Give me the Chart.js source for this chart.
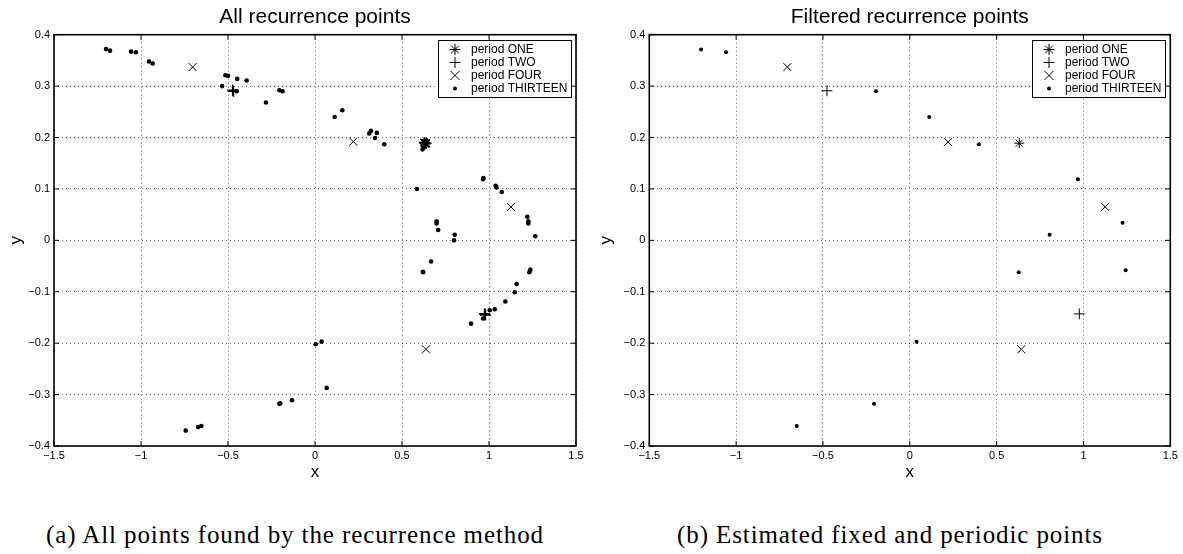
<!DOCTYPE html>
<html>
<head>
<meta charset="utf-8">
<script src="https://cdn.jsdelivr.net/npm/chart.js@4.4.1/dist/chart.umd.min.js"></script>
<style>
  html, body { margin: 0; padding: 0; background: #fff; }
  #page { position: relative; width: 1183px; height: 554px; overflow: hidden; }
  canvas { position: absolute; top: 0; }
  .caption {
    position: absolute; top: 521px; color: #000; white-space: nowrap;
    font-family: "Liberation Serif", "Times New Roman", serif; font-size: 25px; letter-spacing: 0.9px;
  }
</style>
</head>
<body>
<div id="page">
  <canvas id="allCanvas"></canvas>
  <canvas id="filteredCanvas"></canvas>
  <div class="caption" id="captionA" style="left:46px"></div>
  <div class="caption" id="captionB" style="left:677px"></div>
</div>
<script>
// values, [x, y]
const seriesNames = ['period ONE', 'period TWO', 'period FOUR', 'period THIRTEEN'];
const plotTitles = ['All recurrence points', 'Filtered recurrence points'];
const captions = ['(a) All points found by the recurrence method', '(b) Estimated fixed and periodic points'];
const xTickValues = [-1.5, -1, -0.5, 0, 0.5, 1, 1.5];
const yTickValues = [-0.4, -0.3, -0.2, -0.1, 0, 0.1, 0.2, 0.3, 0.4];

// (a) all points
const allPeriodOne = [[0.628, 0.190], [0.634, 0.188], [0.638, 0.189]];
const allPeriodTwo = [[-0.473, 0.292], [-0.469, 0.290], [0.975, -0.143], [0.979, -0.145]];
const allPeriodFour = [[-0.703, 0.337], [0.220, 0.192], [1.126, 0.065], [0.638, -0.212]];
const allPeriodThirteen = [
  [-1.201, 0.372], [-1.178, 0.369], [-1.057, 0.367], [-1.030, 0.366], [-0.954, 0.348], [-0.933, 0.344],
  [-0.515, 0.321], [-0.500, 0.320], [-0.534, 0.300], [-0.447, 0.314], [-0.393, 0.311], [-0.450, 0.290],
  [-0.282, 0.268], [-0.205, 0.292], [-0.186, 0.290], [0.113, 0.240], [0.157, 0.253],
  [0.312, 0.208], [0.322, 0.213], [0.355, 0.209], [0.345, 0.199], [0.398, 0.187],
  [0.618, 0.177], [0.586, 0.100], [0.966, 0.119], [0.968, 0.121], [1.038, 0.106], [1.043, 0.103],
  [1.073, 0.094], [1.220, 0.046], [1.226, 0.033], [1.226, 0.037], [1.266, 0.008],
  [0.699, 0.037], [0.699, 0.033], [0.708, 0.020], [0.803, 0.011], [0.799, 0.000],
  [0.622, -0.062], [0.620, -0.061], [0.667, -0.041], [1.232, -0.062], [1.238, -0.057],
  [1.159, -0.085], [1.148, -0.101], [1.094, -0.119], [1.033, -0.134], [1.004, -0.136],
  [0.966, -0.152], [0.897, -0.162], [0.004, -0.202], [0.038, -0.197], [0.067, -0.287],
  [-0.132, -0.311], [-0.205, -0.318], [-0.200, -0.317], [-0.743, -0.370], [-0.671, -0.363], [-0.653, -0.361]
];

// (b) filtered points
const filteredPeriodOne = [[0.630, 0.189]];
const filteredPeriodTwo = [[-0.477, 0.291], [0.976, -0.143]];
const filteredPeriodFour = [[-0.705, 0.337], [0.220, 0.191], [1.125, 0.065], [0.642, -0.212]];
const filteredPeriodThirteen = [
  [-1.202, 0.371], [-1.058, 0.366], [-0.195, 0.290], [0.112, 0.240], [0.398, 0.187], [0.968, 0.119],
  [1.225, 0.034], [0.805, 0.011], [0.627, -0.062], [1.243, -0.058], [0.039, -0.197],
  [-0.651, -0.361], [-0.206, -0.318]
];

const toXY = pts => pts.map(p => ({ x: p[0], y: p[1] }));
const fmtTick = v => (v < 0 ? '\u2212' + (-v) : String(v));
const FONT = '"Liberation Sans", Arial, Helvetica, sans-serif';

Chart.defaults.color = '#000';
Chart.defaults.font.family = FONT;

// marker drawing for the legend box, same shapes as chart.js point styles
function drawMarker(ctx, style, x, y, r) {
  ctx.beginPath();
  if (style === 'circle') {
    ctx.arc(x, y, r, 0, Math.PI * 2);
    ctx.fill();
    return;
  }
  if (style === 'cross' || style === 'star') {
    ctx.moveTo(x - r, y); ctx.lineTo(x + r, y);
    ctx.moveTo(x, y - r); ctx.lineTo(x, y + r);
  }
  if (style === 'crossRot' || style === 'star') {
    const d = r * Math.SQRT1_2;
    ctx.moveTo(x - d, y - d); ctx.lineTo(x + d, y + d);
    ctx.moveTo(x - d, y + d); ctx.lineTo(x + d, y - d);
  }
  ctx.stroke();
}

// matlab style box: frame on all sides + inward ticks
const framePlugin = {
  id: 'frame',
  afterDatasetsDraw(chart) {
    const { ctx, chartArea: a, scales: { x, y } } = chart;
    ctx.save();
    ctx.strokeStyle = '#000';
    ctx.lineWidth = 1;
    ctx.beginPath();
    x.ticks.forEach(t => {
      const px = x.getPixelForValue(t.value);
      ctx.moveTo(px, a.bottom); ctx.lineTo(px, a.bottom - 5);
      ctx.moveTo(px, a.top); ctx.lineTo(px, a.top + 5);
    });
    y.ticks.forEach(t => {
      const py = y.getPixelForValue(t.value);
      ctx.moveTo(a.left, py); ctx.lineTo(a.left + 5, py);
      ctx.moveTo(a.right, py); ctx.lineTo(a.right - 5, py);
    });
    ctx.stroke();
    ctx.lineWidth = 1.6;
    ctx.strokeRect(a.left, a.top, a.right - a.left, a.bottom - a.top);
    ctx.restore();
  }
};

// legend box in the top right corner of the plot area
const legendRadius = { star: 5.5, cross: 5.5, crossRot: 6.4, circle: 2 };
const boxLegend = {
  id: 'boxLegend',
  afterDraw(chart) {
    const { ctx, chartArea } = chart;
    const w = 133, h = 57;
    const left = Math.round(chartArea.right - 5 - w), top = Math.round(chartArea.top + 5);
    ctx.save();
    ctx.fillStyle = '#fff';
    ctx.fillRect(left, top, w, h);
    ctx.strokeStyle = '#000';
    ctx.lineWidth = 1;
    ctx.strokeRect(left + 0.5, top + 0.5, w, h);
    ctx.fillStyle = '#000';
    ctx.font = '12px ' + FONT;
    ctx.textBaseline = 'middle';
    chart.data.datasets.forEach((ds, i) => {
      const cy = top + 9.5 + i * 13;
      drawMarker(ctx, ds.pointStyle, left + 17, cy, legendRadius[ds.pointStyle]);
      ctx.fillText(ds.label, left + 33, cy);
    });
    ctx.restore();
  }
};

function makeSets(one, two, four, thirteen, bold) {
  const common = { showLine: false, pointBorderColor: '#000', pointBackgroundColor: '#000' };
  return [
    { ...common, label: seriesNames[0], data: toXY(one), pointStyle: 'star', pointRadius: bold ? 5.5 : 5, pointBorderWidth: bold ? 1.6 : 1 },
    { ...common, label: seriesNames[1], data: toXY(two), pointStyle: 'cross', pointRadius: 5.5, pointBorderWidth: bold ? 1.6 : 1 },
    { ...common, label: seriesNames[2], data: toXY(four), pointStyle: 'crossRot', pointRadius: 5.7, pointBorderWidth: 1 },
    { ...common, label: seriesNames[3], data: toXY(thirteen), pointStyle: 'circle', pointRadius: bold ? 2.3 : 2, pointBorderWidth: 0 }
  ];
}

function makePlot(canvas, geo, title, datasets) {
  canvas.width = geo.width;
  canvas.height = geo.height;
  canvas.style.left = geo.left + 'px';
  const gridStyle = { color: 'rgba(0,0,0,0.6)', lineWidth: 1, drawTicks: false };
  return new Chart(canvas, {
    type: 'scatter',
    data: { datasets },
    options: {
      responsive: false,
      animation: false,
      events: [],
      layout: { padding: { left: 0, top: 0, right: geo.padRight, bottom: geo.padBottom } },
      plugins: {
        legend: { display: false },
        tooltip: { enabled: false },
        title: {
          display: true, text: title, fullSize: false, color: '#000',
          font: { size: 21, weight: 'normal' }, padding: { top: 4.4, bottom: 5.1 }
        }
      },
      scales: {
        x: {
          type: 'linear', min: -1.5, max: 1.5,
          afterBuildTicks: s => { s.ticks = xTickValues.map(v => ({ value: v })); },
          afterFit: s => { s.height = 40; },
          ticks: { callback: fmtTick, font: { size: 11 }, padding: 3, maxRotation: 0, autoSkip: false },
          grid: gridStyle,
          border: { display: false, dash: [1, 3] },
          title: { display: true, text: 'x', font: { size: 17 }, padding: { top: 0, bottom: 3.5 } }
        },
        y: {
          type: 'linear', min: -0.4, max: 0.4,
          afterBuildTicks: s => { s.ticks = yTickValues.map(v => ({ value: v })); },
          afterFit: s => { s.width = geo.axisLeft; },
          ticks: { callback: fmtTick, font: { size: 11 }, padding: 4, autoSkip: false },
          grid: gridStyle,
          border: { display: false, dash: [1, 3] },
          title: { display: true, text: 'y', font: { size: 17 }, padding: { top: 6, bottom: 0 } }
        }
      }
    },
    plugins: [framePlugin, boxLegend]
  });
}

makePlot(document.getElementById('allCanvas'),
  { left: 0, width: 590, height: 500, axisLeft: 54, padRight: 14, padBottom: 14 },
  plotTitles[0], makeSets(allPeriodOne, allPeriodTwo, allPeriodFour, allPeriodThirteen, true));

makePlot(document.getElementById('filteredCanvas'),
  { left: 590, width: 593, height: 500, axisLeft: 59.3, padRight: 12.7, padBottom: 14 },
  plotTitles[1], makeSets(filteredPeriodOne, filteredPeriodTwo, filteredPeriodFour, filteredPeriodThirteen, false));

document.getElementById('captionA').textContent = captions[0];
document.getElementById('captionB').textContent = captions[1];
</script>
</body>
</html>
